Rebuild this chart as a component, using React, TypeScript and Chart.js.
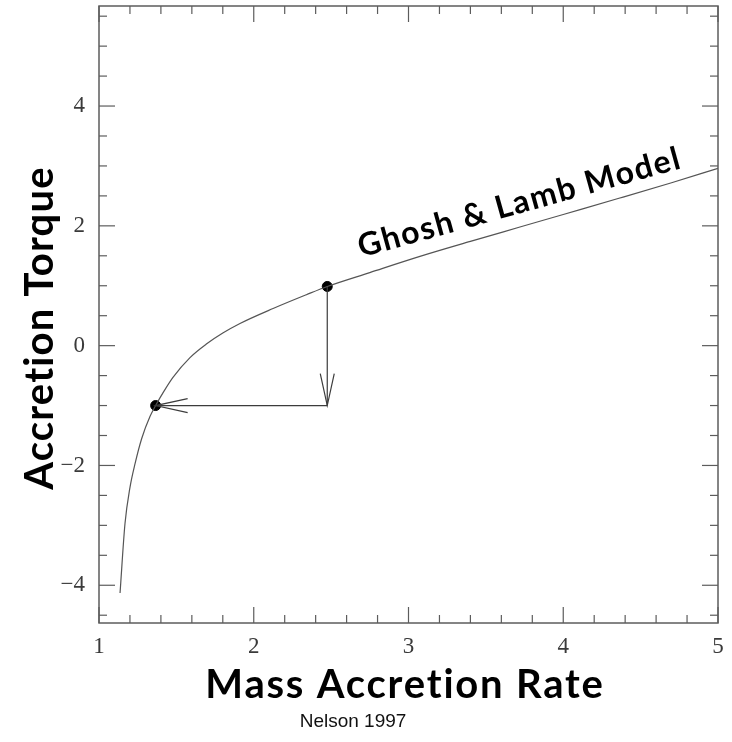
import React, { useEffect, useRef } from "react";
import { Chart, registerables } from "chart.js";

Chart.register(...registerables);

// Ghosh & Lamb torque curve: accretion torque against mass accretion rate
const massRate = [
  1.136, 1.168, 1.2, 1.233, 1.276, 1.33, 1.366, 1.42, 1.478, 1.588, 1.696, 1.8,
  1.911, 2.125, 2.34, 2.475, 2.75, 3.074, 3.4, 3.72, 4.0, 4.36, 4.7, 5.0,
];
const torque = [
  -4.13, -2.97, -2.37, -1.97, -1.55, -1.18, -1.0, -0.76, -0.53, -0.2, 0.03, 0.21,
  0.37, 0.62, 0.85, 0.988, 1.22, 1.49, 1.74, 1.98, 2.19, 2.46, 2.72, 2.96,
];

// Two marked states on the curve
const stateRate = [1.366, 2.475];
const stateTorque = [-1.0, 0.988];

// Arrows: drop in torque, then slide along the curve to lower rate
const arrowStartRate = [2.475, 2.475];
const arrowStartTorque = [0.988, -1.0];
const arrowEndRate = [2.475, 1.366];
const arrowEndTorque = [-1.0, -1.0];

// Axis ticks
const xTickValues = [1, 2, 3, 4, 5];
const yTickValues = [-4, -2, 0, 2, 4];
const X_MIN = 1;
const X_MAX = 5;
const X_MINOR_STEP = 0.2;
const Y_MIN = -4.63;
const Y_MAX = 5.67;
const Y_MINOR_START = -4.5;
const Y_MINOR_STEP = 0.5;
const Y_MAJOR_EVERY = 2;

const X_TITLE = "Mass Accretion Rate";
const Y_TITLE = "Accretion Torque";
const CURVE_LABEL = "Ghosh & Lamb Model";
const CREDIT = "Nelson 1997";
const curveLabelRate = 3.735;
const curveLabelTorque = 2.22;
const curveLabelAngleDeg = -15.6;

const INK = "#3c3c3c";

const fmt = (v: number) => (v < 0 ? "\u2212" + Math.abs(v) : String(v));

const framePlugin = {
  id: "frameTicks",
  afterDatasetsDraw(chart: any) {
    const { ctx, chartArea, scales } = chart;
    const { left, right, top, bottom } = chartArea;
    const xs = scales.x;
    const ys = scales.y;
    ctx.save();
    ctx.strokeStyle = "#5c5c5c";
    ctx.lineWidth = 1.5;
    ctx.strokeRect(left, top, right - left, bottom - top);
    ctx.lineWidth = 1.2;
    const seg = (x1: number, y1: number, x2: number, y2: number) => {
      ctx.beginPath();
      ctx.moveTo(x1, y1);
      ctx.lineTo(x2, y2);
      ctx.stroke();
    };
    for (let i = 0; ; i++) {
      const v = X_MIN + i * X_MINOR_STEP;
      if (v > X_MAX + 1e-9) break;
      const px = xs.getPixelForValue(v);
      const major = Math.abs(v - Math.round(v)) < 1e-6;
      const len = major ? 16 : 8;
      seg(px, bottom, px, bottom - len);
      seg(px, top, px, top + len);
    }
    for (let i = 0; ; i++) {
      const v = Y_MINOR_START + i * Y_MINOR_STEP;
      if (v > Y_MAX) break;
      const py = ys.getPixelForValue(v);
      const major = Math.abs(v / Y_MAJOR_EVERY - Math.round(v / Y_MAJOR_EVERY)) < 1e-6;
      const len = major ? 16 : 8;
      seg(left, py, left + len, py);
      seg(right, py, right - len, py);
    }

    // arrow heads
    ctx.strokeStyle = INK;
    ctx.lineWidth = 1.2;
    for (let i = 0; i < arrowEndRate.length; i++) {
      const sx = xs.getPixelForValue(arrowStartRate[i]);
      const sy = ys.getPixelForValue(arrowStartTorque[i]);
      const ex = xs.getPixelForValue(arrowEndRate[i]);
      const ey = ys.getPixelForValue(arrowEndTorque[i]);
      const a = Math.atan2(ey - sy, ex - sx);
      const len = 32;
      const spread = 7;
      const bx = ex - len * Math.cos(a);
      const by = ey - len * Math.sin(a);
      const nx = -Math.sin(a) * spread;
      const ny = Math.cos(a) * spread;
      ctx.beginPath();
      ctx.moveTo(bx + nx, by + ny);
      ctx.lineTo(ex, ey);
      ctx.lineTo(bx - nx, by - ny);
      ctx.stroke();
    }

    // curve label
    const lx = xs.getPixelForValue(curveLabelRate);
    const ly = ys.getPixelForValue(curveLabelTorque);
    ctx.save();
    ctx.translate(lx, ly);
    ctx.rotate((curveLabelAngleDeg * Math.PI) / 180);
    ctx.fillStyle = "#000";
    ctx.font = "700 32px Lato";
    (ctx as any).letterSpacing = "1.5px";
    ctx.textAlign = "center";
    ctx.textBaseline = "alphabetic";
    ctx.fillText(CURVE_LABEL, 0, 0);
    ctx.restore();

    // axis titles and credit
    ctx.save();
    ctx.fillStyle = "#000";
    ctx.font = "700 40px Lato";
    (ctx as any).letterSpacing = "1.8px";
    ctx.textAlign = "center";
    ctx.textBaseline = "alphabetic";
    ctx.fillText(X_TITLE, 405, 698);
    (ctx as any).letterSpacing = "1.2px";
    ctx.translate(53, 328);
    ctx.rotate(-Math.PI / 2);
    ctx.fillText(Y_TITLE, 0, 0);
    ctx.restore();

    ctx.font = '19px "Liberation Sans"';
    ctx.fillStyle = "#111";
    ctx.textAlign = "center";
    ctx.textBaseline = "alphabetic";
    ctx.fillText(CREDIT, 353, 727);
    ctx.restore();
  },
};

export default function App() {
  const canvasRef = useRef<HTMLCanvasElement | null>(null);

  useEffect(() => {
    const canvas = canvasRef.current;
    if (!canvas) return;
    const curve = massRate.map((x, i) => ({ x, y: torque[i] }));
    const states = stateRate.map((x, i) => ({ x, y: stateTorque[i] }));
    const shafts = arrowStartRate.map((_, i) => ({
      label: "arrow" + i,
      data: [
        { x: arrowStartRate[i], y: arrowStartTorque[i] },
        { x: arrowEndRate[i], y: arrowEndTorque[i] },
      ],
      borderColor: INK,
      borderWidth: 1.2,
      pointRadius: 0,
      showLine: true,
      fill: false,
    }));

    const tickFont = { family: '"Liberation Serif", "DejaVu Serif", serif', size: 23 };

    const chart = new Chart(canvas, {
      type: "scatter",
      data: {
        datasets: [
          {
            label: "Ghosh & Lamb",
            data: curve,
            showLine: true,
            borderColor: "#555",
            borderWidth: 1.2,
            pointRadius: 0,
            cubicInterpolationMode: "monotone",
            fill: false,
          } as any,
          ...(shafts as any[]),
          {
            label: "states",
            data: states,
            pointRadius: 5,
            pointBackgroundColor: "#000",
            pointBorderColor: "#000",
            showLine: false,
          },
        ],
      },
      options: {
        animation: false,
        responsive: true,
        maintainAspectRatio: false,
        layout: { padding: { left: 0, right: 14, top: 5, bottom: 0 } },
        plugins: { legend: { display: false }, tooltip: { enabled: false } },
        scales: {
          x: {
            type: "linear",
            min: X_MIN,
            max: X_MAX,
            grid: { display: false, drawTicks: false },
            border: { display: false },
            afterBuildTicks: (s: any) => {
              s.ticks = xTickValues.map((value) => ({ value }));
            },
            afterFit: (s: any) => {
              s.height = 119;
              s.paddingLeft = 0;
              s.paddingRight = 0;
            },
            ticks: {
              font: tickFont,
              color: "#3a3a3a",
              padding: 10,
              maxRotation: 0,
              autoSkip: false,
              callback: (v: any) => fmt(Number(v)),
            },
          },
          y: {
            type: "linear",
            min: Y_MIN,
            max: Y_MAX,
            grid: { display: false, drawTicks: false },
            border: { display: false },
            afterBuildTicks: (s: any) => {
              s.ticks = yTickValues.map((value) => ({ value }));
            },
            afterFit: (s: any) => {
              s.width = 99;
              s.paddingTop = 0;
              s.paddingBottom = 0;
            },
            ticks: {
              font: tickFont,
              color: "#3a3a3a",
              padding: 14,
              autoSkip: false,
              callback: (v: any) => fmt(Number(v)),
            },
          },
        },
      } as any,
      plugins: [framePlugin],
    });
    return () => chart.destroy();
  }, []);

  return (
    <div
      style={{
        position: "fixed",
        left: 0,
        top: 0,
        width: 732,
        height: 742,
        background: "#fff",
      }}
    >
      <canvas ref={canvasRef} />
    </div>
  );
}
